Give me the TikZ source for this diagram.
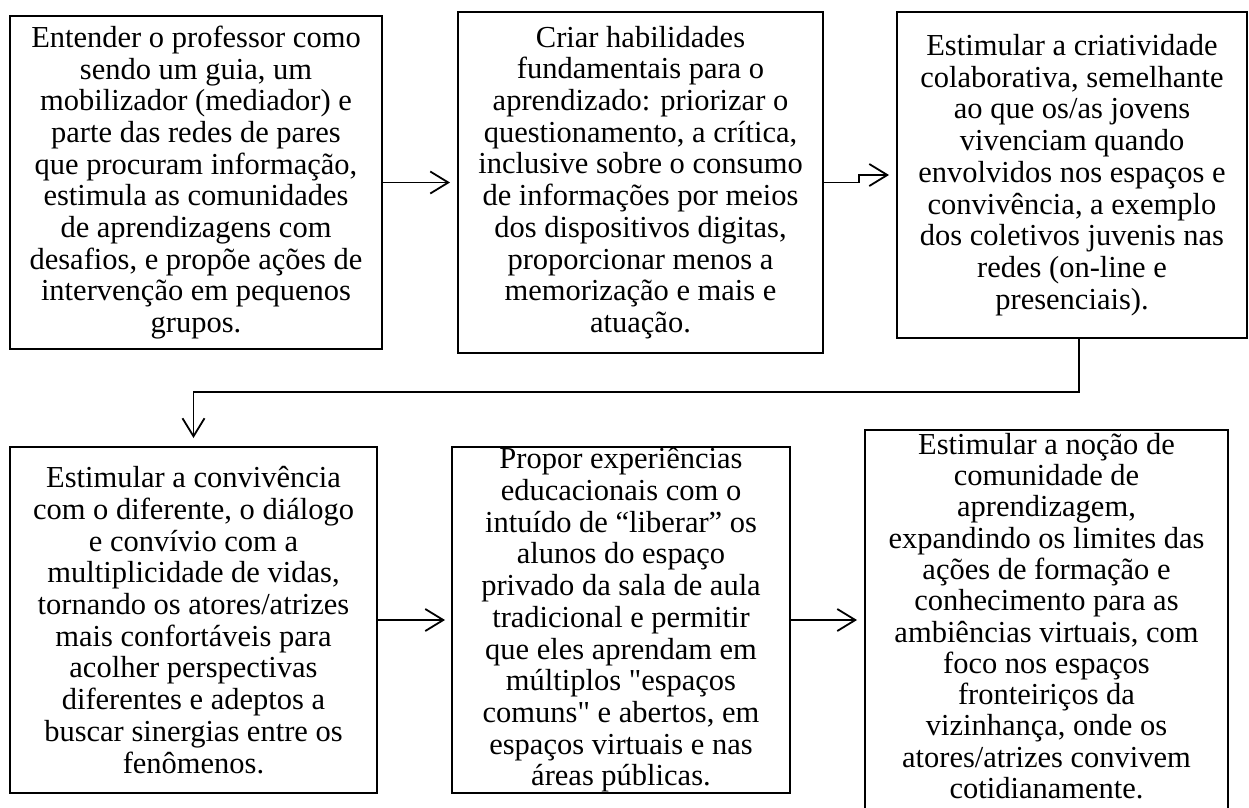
\documentclass[tikz,border=0pt]{standalone}
\usepackage{fontspec}
\setmainfont{Liberation Serif}
\newfontfamily\reffont{Liberation Serif}
\usetikzlibrary{arrows.meta,calc}
\lineskiplimit=-20pt
\begin{document}
\begin{tikzpicture}[x=1pt,y=-1pt,
  boxnode/.style={draw=black, line width=2pt, inner sep=0pt, outer sep=0pt},
  txt/.style={align=center, inner sep=0pt, font=\reffont\fontsize{30.5}{31.7}\selectfont},
  arr/.style={line width=1.8pt, -{Straight Barb[length=18pt,width=22pt,line width=1.8pt]}}]
\useasboundingbox (0,0) rectangle (1249,807);
\fill[white] (0,0) rectangle (1249,807);
\clip (0,0) rectangle (1249,807);
% boxes
\node[boxnode, minimum width=372pt, minimum height=333pt] (b1) at (196,182.5) {};
\node[boxnode, minimum width=365pt, minimum height=341pt] (b2) at (640.5,182.5) {};
\node[boxnode, minimum width=350pt, minimum height=326pt] (b3) at (1072,175) {};
\node[boxnode, minimum width=367pt, minimum height=346pt] (b4) at (193.5,620) {};
\node[boxnode, minimum width=338pt, minimum height=346pt] (b5) at (621,620) {};
\node[boxnode, minimum width=363pt, minimum height=382pt] (b6) at (1046.5,621) {};
% texts
\node[txt] (t1) at (b1.center) {Entender o professor como\\sendo um guia, um\\mobilizador (mediador) e\\parte das redes de pares\\que procuram informação,\\estimula as comunidades\\de aprendizagens com\\desafios, e propõe ações de\\intervenção em pequenos\\grupos.};
\node[txt] (t2) at (b2.center) {Criar habilidades\\fundamentais para o\\aprendizado: priorizar o\\questionamento, a crítica,\\inclusive sobre o consumo\\de informações por meios\\dos dispositivos digitas,\\proporcionar menos a\\memorização e mais e\\atuação.};
\node[txt] (t3) at (b3.center) {Estimular a criatividade\\colaborativa, semelhante\\ao que os/as jovens\\vivenciam quando\\envolvidos nos espaços e\\convivência, a exemplo\\dos coletivos juvenis nas\\redes (on-line e\\presenciais).};
\node[txt] (t4) at (b4.center) {Estimular a convivência\\com o diferente, o diálogo\\e convívio com a\\multiplicidade de vidas,\\tornando os atores/atrizes\\mais confortáveis para\\acolher perspectivas\\diferentes e adeptos a\\buscar sinergias entre os\\fenômenos.};
\node[txt] (t5) at (b5.center) {Propor experiências\\educacionais com o\\intuído de “liberar” os\\alunos do espaço\\privado da sala de aula\\tradicional e permitir\\que eles aprendam em\\múltiplos "espaços\\comuns" e abertos, em\\espaços virtuais e nas\\áreas públicas.};
\node[txt, font=\reffont\fontsize{30.5}{31.3}\selectfont] (t6) at ($(b6.north)+(0,186)$) {Estimular a noção de\\comunidade de\\aprendizagem,\\expandindo os limites das\\ações de formação e\\conhecimento para as\\ambiências virtuais, com\\foco nos espaços\\fronteiriços da\\vizinhança, onde os\\atores/atrizes convivem\\cotidianamente.};
% connectors
\coordinate (c1) at (1079,392);
\draw[arr] (b1.east) -- ($(b2.west)+(-8,0)$);
\draw[arr] (b2.east) -- ++(36,0) |- ($(b3.west)+(-8,0)$);
\draw[arr] (b3.south -| c1) -- (c1) -| ($(b4.north)+(0,-9)$);
\draw[arr] (b4.east) -- ($(b5.west)+(-7,0)$);
\draw[arr] (b5.east) -- ($(b6.west |- b5.east)+(-8,0)$);
\end{tikzpicture}
\end{document}
